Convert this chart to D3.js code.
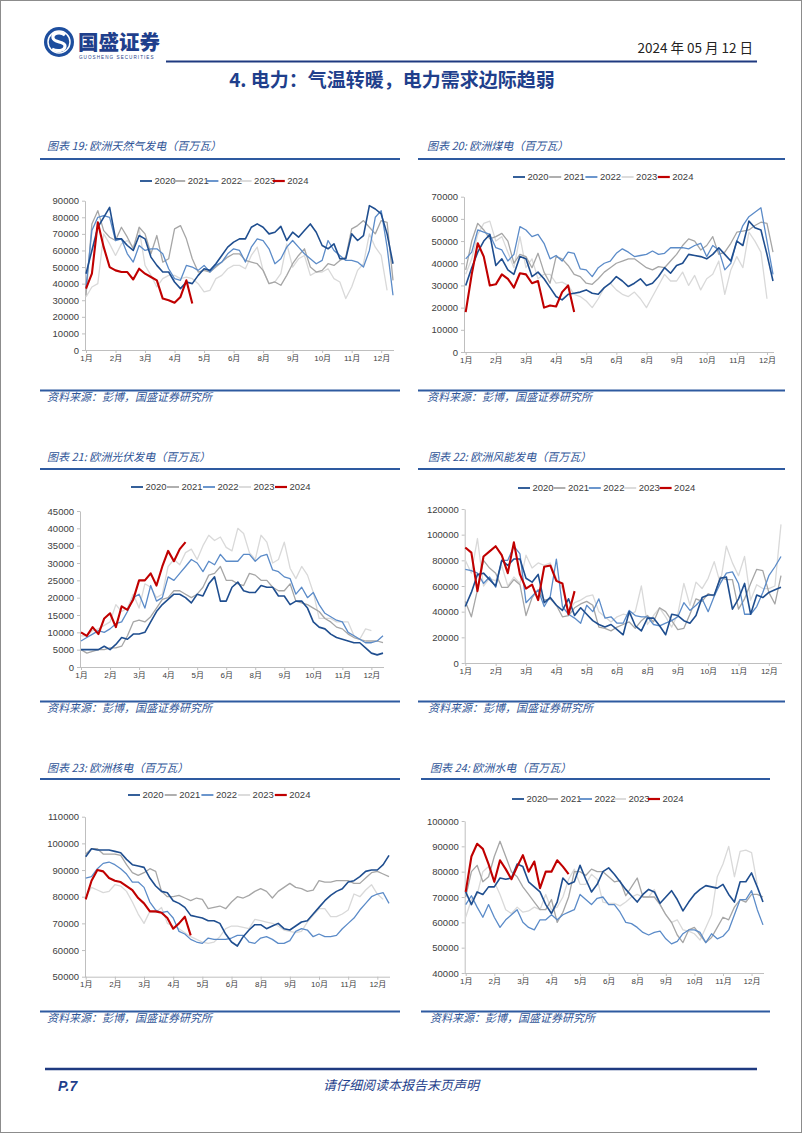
<!DOCTYPE html>
<html lang="zh-CN">
<head>
<meta charset="utf-8"/>
<title>电力：气温转暖，电力需求边际趋弱</title>
<style>
  html, body { margin: 0; padding: 0; background: #fff; }
  svg { display: block; }
  text { font-family: 'Liberation Sans', Arial, 'Noto Sans CJK SC', sans-serif; }
  .cjk { font-family: 'Noto Sans CJK SC', sans-serif; }
</style>
</head>
<body>
<svg id="page" width="802" height="1133"></svg>
<script src="https://cdn.jsdelivr.net/npm/d3@7/dist/d3.min.js"></script>
<script>

  // shared labels
  const years = ['2020', '2021', '2022', '2023', '2024'];
  const months = ['1月', '2月', '3月', '4月', '5月', '6月', '8月', '9月', '10月', '11月', '12月'];
  const monthIdx = [0, 5, 10, 15, 20, 25, 30, 35, 40, 45, 50];
  const colors = ['#1f4e8f', '#a6a6a6', '#5b8bc8', '#d9d9d9', '#c00000'];
  const widths = [1.6, 1.3, 1.3, 1.3, 2.1];

  // 图表19 天然气发电 (千兆瓦 -> x1000)
  const gas2020 = [46,60,74,80,86, 67,67,63,60,69, 67,56,51,47,47, 41,37,41,40,45, 49,48,52,57,62, 65,67,67,74,76, 74,70,71,74.5,66, 71,68,72,76,71, 63,61,64,55,55, 70,66,69,87,85, 82,70,52];
  const gas2021 = [33,76,84,72,68, 66,74,68,61,74, 70,58,69,53,55, 73,75,67,55,47, 48,47,50,53,56, 58,58,54,53,52, 48,40,41,39,45, 52,57,61,50,47, 48,52,51,54,56, 73,75,78,74,70, 78,77,42];
  const gas2022 = [38,72,80,81,80, 66,67,58,53,63, 60,61,61,58,49, 43,42,51,50,48, 51,47,51,53,58, 61,60,53,62,67, 66,61,52,55,62, 66,62,58,55,52, 54,66,60,57,54, 54,53,50,60,80, 84,62,33];
  const gas2023 = [32,38,40,70,64, 57,64,66,62,73, 51,45,38,43,45, 45,43,44,43,40, 35,36,43,45,49, 51,51,49,57,62, 48,40,41,46,64, 50,55,57,45,47, 47,49,43,41,31, 38,48,52,70,62, 57,36];
  const gas2024 = [37,46,77,62,50, 48,47,47,42.5,49, 46,44,42,31,30, 28.5,32,42,28];
  const gasTicks = [0,10000,20000,30000,40000,50000,60000,70000,80000,90000];

  // 图表20 煤电
  const coal2020 = [30,38,45,50,53, 39,42,37,35,43, 42,34,36,33,29, 25,23.5,26,26.5,27, 28,26.5,26,29,31, 34,32,29.5,31,33, 30,31,34,38,35.5, 39,40,44,43.5,43, 42,44,47,44,41, 50,48,59,56,55, 44,32];
  const coal2021 = [37,50,58,55,51, 52,53.5,50,40,44, 43,38,44.5,36,31, 43,42,39,35,34, 31,30.5,33,36,38, 40,41,42,42,40, 38,37,38.5,38,41, 44,48,51,50,46, 48,52,44,45,49, 54,54.5,55,57,58.5, 58,45];
  const coal2022 = [42,45,55,54,53, 47,46,41,44,56.5, 55,52,53,49,42, 43.5,41,45,44.5,37.5, 37,34,38,40,41, 44.5,46.5,45,43,43.5, 44,45.5,44,44.5,47, 47,47,46.5,48,49, 43,48,46,37,40, 50,57,61,63,65, 50,35];
  const coal2023 = [35,42,53,58,59, 50,52,45,38,52, 38,42,33,35,35, 31,31.5,30,26,25, 23,20,24,29,31, 28,26,25,27,24, 20,25,30,35,32, 32,36,30,34.5,28, 33,35,41,26,37, 43,38,54,50,45, 24];
  const coal2024 = [18,35,49,43,30, 30.5,35,33,29,35.5, 35,31,32,20,21, 20.5,27,30,18];
  const coalTicks = [0,10000,20000,30000,40000,50000,60000,70000];

  // 图表21 光伏发电
  const solar2020 = [5,5,5,5,6, 5,6.5,8.5,8,9.5, 9.5,10,13,16,18, 19.5,21,21,20,18.5, 21,20.5,24,26,19, 19,23,24.5,22,21.5, 21.5,23.5,23,23,20.5, 20.5,18,19,19,17, 13,11.5,11,9.5,8.5, 8,7.5,7,7,5.5, 4,3.5,4];
  const solar2021 = [5,4,4.5,5,5, 5.5,5.5,6,9,13, 13.5,13,14.5,17,19.5, 20,22,22,21,20, 21,23,26.5,27,29, 25,25,24,23.5,27, 26.5,25,25,23,22, 22,24,19,18.5,18, 17,16,14,13,11.5, 11,9.5,8.5,8,7.5, 7.5,7.5,7];
  const solar2022 = [7.5,8.5,9.5,10.5,10, 11,12.5,13,16,20, 21,17,23.5,19,20, 26,25,27,29,31, 30,27.5,30.5,29.5,32.5, 30.5,30.5,30.5,32.5,32.5, 30.5,32,32.5,28,27.5, 26,25.5,21,23,20, 21.5,18,15.5,14.5,13.5, 13,10,9,8,7, 7,7.5,9];
  const solar2023 = [9,9,10.5,11,12, 13,18,16,17,21, 17,24,23,20,21, 29,31,29.5,33,34, 31,35,38,36.5,37.5, 34.5,33.5,40,38.5,33, 31,38,36,30,31, 36,28.5,25.5,29,26.5, 21.5,14,14,14,13, 13,13,9,8,11, 10.5];
  const solar2024 = [10,9,11.5,9.5,14, 15.5,11.5,17.5,16.5,19.5, 25,25,27,23.5,29, 33.5,30.5,34,36];
  const solarTicks = [0,5000,10000,15000,20000,25000,30000,35000,40000,45000];

  // 图表22 风能发电
  const wind2020 = [44,55,69,70,65, 60,80,76,81,81, 66,63,69,47,51, 45,41,50,37,43, 38,33,30,28,30, 26,22,40,29,25, 35,35,29,22,38, 37,33,31,37,51, 53,53,66,67,42, 50,62,38,53,51, 55,57,59];
  const wind2021 = [48,36,57,80,74, 70,59,59,65,61, 37,51,57,49,50, 45,36,37,43,46, 48,45,28,27,25, 28,30,32,27,33, 37,32,43,40,33, 26,27,38,50,48, 54,52,67,65,65, 42,50,62,73,72, 55,46,68];
  const wind2022 = [73,72,70,62,67, 59,80,80,91,85, 47,52,57,44,52, 81,44,38,35,31, 45,40,50,35,36, 31,31,41,37,36, 36,30,29,31,33, 36,47,41,45,50, 40,52,62,70,71, 62,38,38,44,55, 68,75,83];
  const wind2023 = [80,70,97,60,66, 64,76,60,67,62, 84,74,78,76,78, 66,58,40,47,49, 52,53,40,36,32, 36,38,37,40,60, 30,37,43,36,28, 38,62,45,63,58, 66,79,62,91,78, 68,83,49,61,58, 58,60,108];
  const wind2024 = [90,86,56,83,87, 91,84,70,94,69, 58,61,49,75,76, 64,62,38,56];
  const windTicks = [0,20000,40000,60000,80000,100000,120000];

  // 图表23 核电
  const nuc2020 = [95,98,97.5,97.5,97.5, 97,96.5,94,92,91.5, 91,87,84,82,81.5, 78.5,77.5,76,73,72.5, 72,71,71,70,66, 63,61.5,65,67.5,69.5, 69.5,68,69,70,68, 67.5,69,70.5,71,73.5, 76,78.5,80.5,82,83, 85.5,86,87.5,89.5,90, 90,92,95.5];
  const nuc2021 = [96,98,98,96,96, 96,95.5,92,89,88, 89,90.5,89.5,82,80, 80,80.5,79.5,78.5,79.5, 79,75.5,76,76.5,75.5, 78,80,79.5,80.5,82, 83,82,79.5,82,83.5, 85,83.5,83,82,82.5, 86,85.5,85.5,86,86, 86,85,85,87,89, 89.5,88.5,87.5];
  const nuc2022 = [87,87.5,90.5,92.5,93, 92,90.5,88.5,85.5,85.5, 83.5,78,75,74,74.5, 72,67,66,64,63, 62.5,64.5,64,64,64, 64.5,65.5,65.5,63,62.5, 64.5,65,64,62.5,62.5, 63.5,67,68,67.5,65, 66,65,65,65.5,68, 70,72,75,77.5,80, 81,81.5,77.5];
  const nuc2023 = [80,83.5,82.5,81.5,82, 84.5,84,82,78,73.5, 70,74.5,74,76,70, 69,68,66.5,65,64, 63,62.5,63,65,68, 69,69,68.5,68,71.5, 71,70.5,70,69,67.5, 67,66.5,67,70.5,73, 75.5,75.5,72.5,72.5,73.5, 75,81,80,82.5,84.5, 81,79];
  const nuc2024 = [79,86,90,89.5,87, 86,85.5,84,82.5,79.5, 77.5,74.5,74.5,74,72, 68,70,72.5,65.5];
  const nucTicks = [50000,60000,70000,80000,90000,100000,110000];

  // 图表24 水电
  const hyd2020 = [72,67,72,71,74, 74,77.5,77,77.5,83, 82,76,74,72,67, 63.5,68,77.5,75,76, 82.5,77,72,75,80, 81.5,79,76,73,70.5, 68,71,73,72,67.5, 70,72.5,69,64.5,68, 71,73,74.5,74,73.5, 75,71,68,76,76, 79.5,74,68];
  const hyd2021 = [70,80,82.5,76,78, 86,92,86,80,78, 74,71,68,65,65, 69,60,64,70,80, 80,78.5,81,80,80, 78,76,76.5,70.5,74, 77.5,70,70,70,67, 63,60,55,52,57, 58,55,52,54,58, 62,61,66,69,68, 71,71,70];
  const hyd2022 = [67,70.5,66,62,67, 62,58,61,63,65, 60,58,57,61,61, 63,61,63,64,65, 71,69,67,69.5,70, 67,67,64,60,59.5, 58,56,55,56,56.5, 53.5,51.5,52.5,55.5,57, 57,56,52,55.5,53.5, 54.5,57,63,69,69, 72.5,65,59];
  const hyd2023 = [62,69,71,80,82, 76,71,65,63.5,66, 64,64.5,66,65,71, 65,66,70,77,81, 75,75,79,77,68, 67.5,67.5,66.5,68,70, 71,70,70,73,67, 63,60,61,57,56.5, 55.5,53,58,63,78, 83,90,78,88,88.5, 87.5,75];
  const hyd2024 = [72,86,91,89,83, 76,84.5,81,77,82, 86.5,80,84,73.5,80, 80,84.5,82,79];
  const hydTicks = [40000,50000,60000,70000,80000,90000,100000];

  // chart layouts (pixels)
  const charts = [
    { title: '图表 19: 欧洲天然气发电（百万瓦）', series: [gas2020, gas2021, gas2022, gas2023, gas2024], ticks: gasTicks, count: 53,
      left: 40, right: 400, titleX: 47, titleY: 150, topLineY: 159, legendX: 140, legendY: 181, legendStep: 33.2,
      axisX: 85, px0: 86, px1: 393, yBottom: 350, yTop: 200.7, bottomLineY: 390.5, sourceY: 401 },
    { title: '图表 20: 欧洲煤电（百万瓦）', series: [coal2020, coal2021, coal2022, coal2023, coal2024], ticks: coalTicks, count: 52,
      left: 418, right: 785, titleX: 427, titleY: 150, topLineY: 159, legendX: 513, legendY: 177, legendStep: 36.2,
      axisX: 464, px0: 465.7, px1: 773, yBottom: 352, yTop: 196.7, bottomLineY: 390.5, sourceY: 401 },
    { title: '图表 21: 欧洲光伏发电（百万瓦）', series: [solar2020, solar2021, solar2022, solar2023, solar2024], ticks: solarTicks, count: 53,
      left: 40, right: 400, titleX: 47, titleY: 461, topLineY: 469, legendX: 131, legendY: 487, legendStep: 36,
      axisX: 80, px0: 81, px1: 383, yBottom: 667, yTop: 511, bottomLineY: 701.5, sourceY: 712 },
    { title: '图表 22: 欧洲风能发电（百万瓦）', series: [wind2020, wind2021, wind2022, wind2023, wind2024], ticks: windTicks, count: 53,
      left: 418, right: 785, titleX: 428, titleY: 461, topLineY: 469, legendX: 518, legendY: 488, legendStep: 35.4,
      axisX: 464.7, px0: 465.3, px1: 781, yBottom: 663, yTop: 509, bottomLineY: 701.5, sourceY: 712 },
    { title: '图表 23: 欧洲核电（百万瓦）', series: [nuc2020, nuc2021, nuc2022, nuc2023, nuc2024], ticks: nucTicks, count: 53,
      left: 40, right: 400, titleX: 47, titleY: 772, topLineY: 779, legendX: 128, legendY: 795, legendStep: 36.7,
      axisX: 85, px0: 85.7, px1: 389, yBottom: 976.7, yTop: 816.7, bottomLineY: 1011.5, sourceY: 1022 },
    { title: '图表 24: 欧洲水电（百万瓦）', series: [hyd2020, hyd2021, hyd2022, hyd2023, hyd2024], ticks: hydTicks, count: 53,
      left: 421, right: 770, titleX: 430, titleY: 772, topLineY: 779, legendX: 512, legendY: 799, legendStep: 34,
      axisX: 464.7, px0: 465.7, px1: 763, yBottom: 973, yTop: 821, bottomLineY: 1011.5, sourceY: 1022 }
  ];

  const svg = d3.select('#page');
  const blue = '#1f3f8c';
  const titleBlue = '#2f5597';

  // page frame
  svg.append('rect').attr('x', 0.5).attr('y', 0.5).attr('width', 801).attr('height', 1132)
    .attr('fill', '#fff').attr('stroke', '#8c8c8c');

  // header logo
  svg.append('circle').attr('cx', 59).attr('cy', 42).attr('r', 15).attr('fill', '#1d4e9e');
  svg.append('circle').attr('cx', 59).attr('cy', 42).attr('r', 11).attr('fill', 'none')
    .attr('stroke', '#fff').attr('stroke-width', 1.5);
  svg.append('path')
    .attr('d', 'M65,35 C60,31 52,33 53,38 C54,43 65,41 65,46 C65,51 57,52 52,49')
    .attr('fill', 'none').attr('stroke', '#fff').attr('stroke-width', 3.2);
  svg.append('text').attr('class', 'cjk').attr('x', 78).attr('y', 50)
    .attr('font-size', 20.5).attr('font-weight', 900).attr('fill', blue).text('国盛证券');
  svg.append('text').attr('x', 79).attr('y', 58.5).attr('font-size', 4.6)
    .attr('letter-spacing', 1.05).attr('fill', blue).text('GUOSHENG SECURITIES');

  svg.append('text').attr('class', 'cjk').attr('x', 753).attr('y', 53).attr('text-anchor', 'end')
    .attr('font-size', 13.5).attr('fill', '#222').text('2024 年 05 月 12 日');
  svg.append('line').attr('x1', 166).attr('x2', 757).attr('y1', 61.5).attr('y2', 61.5)
    .attr('stroke', '#1f3a80').attr('stroke-width', 2);

  svg.append('text').attr('class', 'cjk').attr('x', 392).attr('y', 87).attr('text-anchor', 'middle')
    .attr('font-size', 19).attr('font-weight', 700).attr('fill', blue)
    .text('4. 电力：气温转暖，电力需求边际趋弱');

  // footer
  svg.append('line').attr('x1', 45).attr('x2', 757).attr('y1', 1069).attr('y2', 1069)
    .attr('stroke', '#1f3a80').attr('stroke-width', 2.5);
  svg.append('text').attr('x', 58).attr('y', 1091).attr('font-size', 14).attr('font-weight', 700)
    .attr('font-style', 'italic').attr('fill', blue).text('P.7');
  svg.append('text').attr('class', 'cjk').attr('x', 401).attr('y', 1090).attr('text-anchor', 'middle')
    .attr('font-size', 13).attr('font-style', 'italic').attr('fill', blue).text('请仔细阅读本报告末页声明');

  function drawChart(cfg) {
    const g = svg.append('g');

    g.append('text').attr('class', 'cjk').attr('x', cfg.titleX).attr('y', cfg.titleY)
      .attr('font-size', 11).attr('font-style', 'italic').attr('fill', titleBlue).text(cfg.title);
    g.append('line').attr('x1', cfg.left).attr('x2', cfg.right).attr('y1', cfg.topLineY).attr('y2', cfg.topLineY)
      .attr('stroke', '#2e5aa0').attr('stroke-width', 1.8);
    g.append('line').attr('x1', cfg.left).attr('x2', cfg.right).attr('y1', cfg.bottomLineY).attr('y2', cfg.bottomLineY)
      .attr('stroke', '#2e5aa0').attr('stroke-width', 1.8);
    g.append('text').attr('class', 'cjk').attr('x', cfg.titleX).attr('y', cfg.sourceY)
      .attr('font-size', 11).attr('font-style', 'italic').attr('fill', titleBlue).text('资料来源：彭博，国盛证券研究所');

    // legend
    const legend = g.selectAll('g.legend').data(years).join('g')
      .attr('transform', (d, i) => `translate(${cfg.legendX + i * cfg.legendStep},${cfg.legendY})`);
    legend.append('line').attr('x1', 0).attr('x2', 12).attr('y1', 0).attr('y2', 0)
      .attr('stroke', (d, i) => colors[i]).attr('stroke-width', (d, i) => i === 4 ? 2.2 : 1.8);
    legend.append('text').attr('x', 14.5).attr('y', 3.4).attr('font-size', 9.5).attr('fill', '#404040').text(d => d);

    const x = d3.scaleLinear().domain([0, cfg.count - 1]).range([cfg.px0, cfg.px1]);
    const y = d3.scaleLinear().domain([cfg.ticks[0], cfg.ticks[cfg.ticks.length - 1]]).range([cfg.yBottom, cfg.yTop]);

    const yAxis = g.append('g').attr('transform', `translate(${cfg.axisX},0)`)
      .call(d3.axisLeft(y).tickValues(cfg.ticks).tickSize(3).tickSizeOuter(0).tickPadding(3).tickFormat(d3.format('d')));
    yAxis.select('.domain').attr('stroke', '#bfbfbf');
    yAxis.selectAll('.tick line').attr('stroke', '#bfbfbf');
    yAxis.selectAll('.tick text').attr('font-size', 9.5).attr('fill', '#404040')
      .attr('font-family', "'Liberation Sans', Arial, sans-serif");

    const xAxis = g.append('g').attr('transform', `translate(0,${cfg.yBottom})`)
      .call(d3.axisBottom(x).tickValues(monthIdx).tickSize(3).tickSizeOuter(0).tickPadding(2)
        .tickFormat((d, i) => months[i]));
    xAxis.select('.domain').remove();
    xAxis.append('line').attr('x1', cfg.axisX).attr('x2', cfg.px1 + 1).attr('y1', 0.5).attr('y2', 0.5)
      .attr('stroke', '#bfbfbf');
    xAxis.selectAll('.tick line').attr('stroke', '#bfbfbf');
    xAxis.selectAll('.tick text').attr('font-size', 8).attr('fill', '#404040')
      .attr('font-family', "'Noto Sans CJK SC', sans-serif");

    const line = d3.line().x((d, i) => x(i)).y(d => y(d * 1000));
    const order = [3, 1, 2, 0, 4];
    g.selectAll('path.series').data(order).join('path')
      .attr('class', 'series')
      .attr('d', k => line(cfg.series[k]))
      .attr('fill', 'none')
      .attr('stroke', k => colors[k])
      .attr('stroke-width', k => widths[k])
      .attr('stroke-linejoin', 'round');
  }

  charts.forEach(drawChart);

</script>
</body>
</html>
